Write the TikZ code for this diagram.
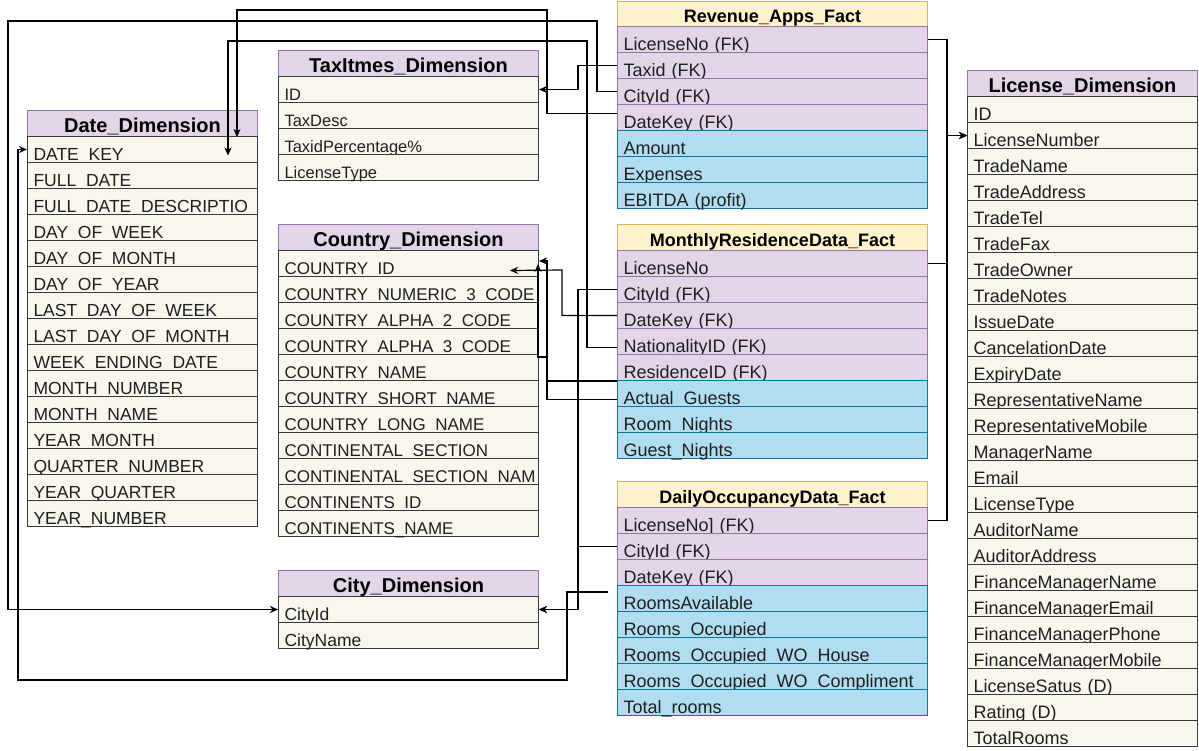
\documentclass[tikz,border=0pt]{standalone}
\usepackage{fontspec}
\setmainfont{Liberation Sans}
\usetikzlibrary{calc,arrows.meta}
\definecolor{dhfill}{HTML}{E1D5E7}
\definecolor{dhdraw}{HTML}{9673A6}
\definecolor{drfill}{HTML}{F9F7ED}
\definecolor{drdraw}{HTML}{36393D}
\definecolor{fhfill}{HTML}{FFF2CC}
\definecolor{fhdraw}{HTML}{D6B656}
\definecolor{mfill}{HTML}{B1DDF0}
\definecolor{mdraw}{HTML}{10739E}
\definecolor{txt}{HTML}{1F1F1F}
\tikzset{
  cell/.style={rectangle, anchor=north west, line width=1pt, inner ysep=0pt, inner xsep=6pt,
    minimum height=26pt, text height=21pt, text depth=0pt, align=left, text=txt},
  headcell/.style={rectangle, anchor=north west, line width=1pt, inner ysep=0pt, inner xsep=2pt,
    minimum height=26pt, text height=17pt, text depth=0pt, align=center, text=black},
  dimhead/.style={headcell, fill=dhfill, draw=dhdraw, font=\fontsize{20}{22}\selectfont\bfseries},
  dimrow/.style={cell, fill=drfill, draw=drdraw},
  facthead/.style={headcell, fill=fhfill, draw=fhdraw, font=\fontsize{18}{20}\selectfont\bfseries},
  fkrow/.style={cell, fill=dhfill, draw=dhdraw, font=\fontsize{18}{20}\selectfont},
  mrow/.style={cell, fill=mfill, draw=mdraw, font=\fontsize{18}{20}\selectfont},
  conn/.style={line width=1.2pt, draw=black, -{Stealth[length=8pt,width=7pt,inset=2.5pt]}},
}
\begin{document}
\begin{tikzpicture}[x=1pt,y=-1pt]
\fill[white] (0,0) rectangle (1199,750);
\useasboundingbox (0,0) rectangle (1199,750);

% Date_Dimension
\node[dimhead, text width=226pt] (date) at (27,110) {Date\_Dimension};
\foreach \t [count=\i] in {DATE\_KEY, FULL\_DATE, FULL\_DATE\_DESCRIPTIO, DAY\_OF\_WEEK, DAY\_OF\_MONTH, DAY\_OF\_YEAR, LAST\_DAY\_OF\_WEEK, LAST\_DAY\_OF\_MONTH, WEEK\_ENDING\_DATE, MONTH\_NUMBER, MONTH\_NAME, YEAR\_MONTH, QUARTER\_NUMBER, YEAR\_QUARTER, YEAR\_NUMBER}
  \node[dimrow, text width=218pt, font=\fontsize{17.5}{20}\selectfont] (date-\i) at (27,110+26*\i) {\mbox{\t}};

% TaxItmes_Dimension
\node[dimhead, text width=256pt] (tax) at (278,50) {TaxItmes\_Dimension};
\foreach \t [count=\i] in {ID, TaxDesc, TaxidPercentage\%, LicenseType}
  \node[dimrow, text width=248pt, font=\fontsize{16.5}{20}\selectfont] (tax-\i) at (278,50+26*\i) {\mbox{\t}};

% Country_Dimension
\node[dimhead, text width=256pt] (cty) at (278,224) {Country\_Dimension};
\foreach \t [count=\i] in {COUNTRY\_ID, COUNTRY\_NUMERIC\_3\_CODE, COUNTRY\_ALPHA\_2\_CODE, COUNTRY\_ALPHA\_3\_CODE, COUNTRY\_NAME, COUNTRY\_SHORT\_NAME, COUNTRY\_LONG\_NAME, CONTINENTAL\_SECTION, CONTINENTAL\_SECTION\_NAM, CONTINENTS\_ID, CONTINENTS\_NAME}
  \node[dimrow, text width=248pt, font=\fontsize{17}{20}\selectfont] (cty-\i) at (278,224+26*\i) {\mbox{\t}};

% City_Dimension
\node[dimhead, text width=256pt] (city) at (278,570) {City\_Dimension};
\foreach \t [count=\i] in {CityId, CityName}
  \node[dimrow, text width=248pt, font=\fontsize{17.5}{20}\selectfont] (city-\i) at (278,570+26*\i) {\mbox{\t}};

% Revenue_Apps_Fact
\node[facthead, text width=306pt, minimum height=25.5pt] (rev) at (617,0.5) {Revenue\_Apps\_Fact};
\foreach \t [count=\i] in {LicenseNo (FK), Taxid (FK), CityId (FK), DateKey (FK)}
  \node[fkrow, text width=298pt] (rev-\i) at (617,26*\i) {\mbox{\t}};
\foreach \t [count=\i from 5] in {Amount, Expenses, EBITDA (profit)}
  \node[mrow, text width=298pt] (rev-\i) at (617,26*\i) {\mbox{\t}};

% MonthlyResidenceData_Fact
\node[facthead, text width=306pt] (mon) at (617,224) {MonthlyResidenceData\_Fact};
\foreach \t [count=\i] in {LicenseNo, CityId (FK), DateKey (FK), NationalityID (FK), ResidenceID (FK)}
  \node[fkrow, text width=298pt] (mon-\i) at (617,224+26*\i) {\mbox{\t}};
\foreach \t [count=\i from 6] in {Actual\_Guests, Room\_Nights, Guest\_Nights}
  \node[mrow, text width=298pt] (mon-\i) at (617,224+26*\i) {\mbox{\t}};

% DailyOccupancyData_Fact
\node[facthead, text width=306pt] (day) at (617,481) {DailyOccupancyData\_Fact};
\foreach \t [count=\i] in {LicenseNo] (FK), CityId (FK), DateKey (FK)}
  \node[fkrow, text width=298pt] (day-\i) at (617,481+26*\i) {\mbox{\t}};
\foreach \t [count=\i from 4] in {RoomsAvailable, Rooms\_Occupied, Rooms\_Occupied\_WO\_House, Rooms\_Occupied\_WO\_Compliment, Total\_rooms}
  \node[mrow, text width=298pt] (day-\i) at (617,481+26*\i) {\mbox{\t}};

% License_Dimension
\node[dimhead, text width=226pt] (lic) at (967,70) {License\_Dimension};
\foreach \t [count=\i] in {ID, LicenseNumber, TradeName, TradeAddress, TradeTel, TradeFax, TradeOwner, TradeNotes, IssueDate, CancelationDate, ExpiryDate, RepresentativeName, RepresentativeMobile, ManagerName, Email, LicenseType, AuditorName, AuditorAddress, FinanceManagerName, FinanceManagerEmail, FinanceManagerPhone, FinanceManagerMobile, LicenseSatus (D), Rating (D), TotalRooms}
  \node[dimrow, text width=218pt, font=\fontsize{18}{20}\selectfont] (lic-\i) at (967,70+26*\i) {\mbox{\t}};

% free ends
\coordinate (dkin) at ($(date-1.east)+(-30,6)$);
\coordinate (ddfree) at ($(day-3.south west)+(-9,6)$);
\coordinate (ctyin) at ($(cty-1.east)+(-29,7)$);

% connectors
\draw[conn] ($(rev-4.west)+(0,-4)$) -| (547,10) -| (date.south -| 237,0);
\draw[conn] (rev-3.west) -| (597,21) -| (city-1.west -| 8,0) -- (city-1.west);
\draw[conn] ($(mon-4.west)+(0,6)$) -| (587,41) -| (dkin);
\draw[conn] (rev-2.west) -| ($(tax-1.east)+(39,0)$) -- (tax-1.east);
\draw[conn] (ddfree) -| (567,680) -| (date-1.west -| 18,0) -- (date-1.west);
\draw[conn] (mon-2.west) -| ($(city-1.east)+(39,0)$) -- (city-1.east);
\draw[conn] (day-2.west) -| ($(city-1.east)+(39,0)$) -- (city-1.east);
\draw[conn] (mon-3.west) -| (562,270) -- (ctyin);
\draw[conn] (mon-5.south west) -| (547,357) -| (538,264);
\draw[conn] ($(mon-6.west)+(0,6)$) -| (547,261) -- (539,261);
\draw[conn] (rev-1.east) -| ($(lic-2.west)+(-20,0)$) -- (lic-2.west);
\draw[conn] (mon-1.east) -| ($(lic-2.west)+(-20,0)$) -- (lic-2.west);
\draw[conn] (day-1.east) -| ($(lic-2.west)+(-20,0)$) -- (lic-2.west);
\end{tikzpicture}
\end{document}
